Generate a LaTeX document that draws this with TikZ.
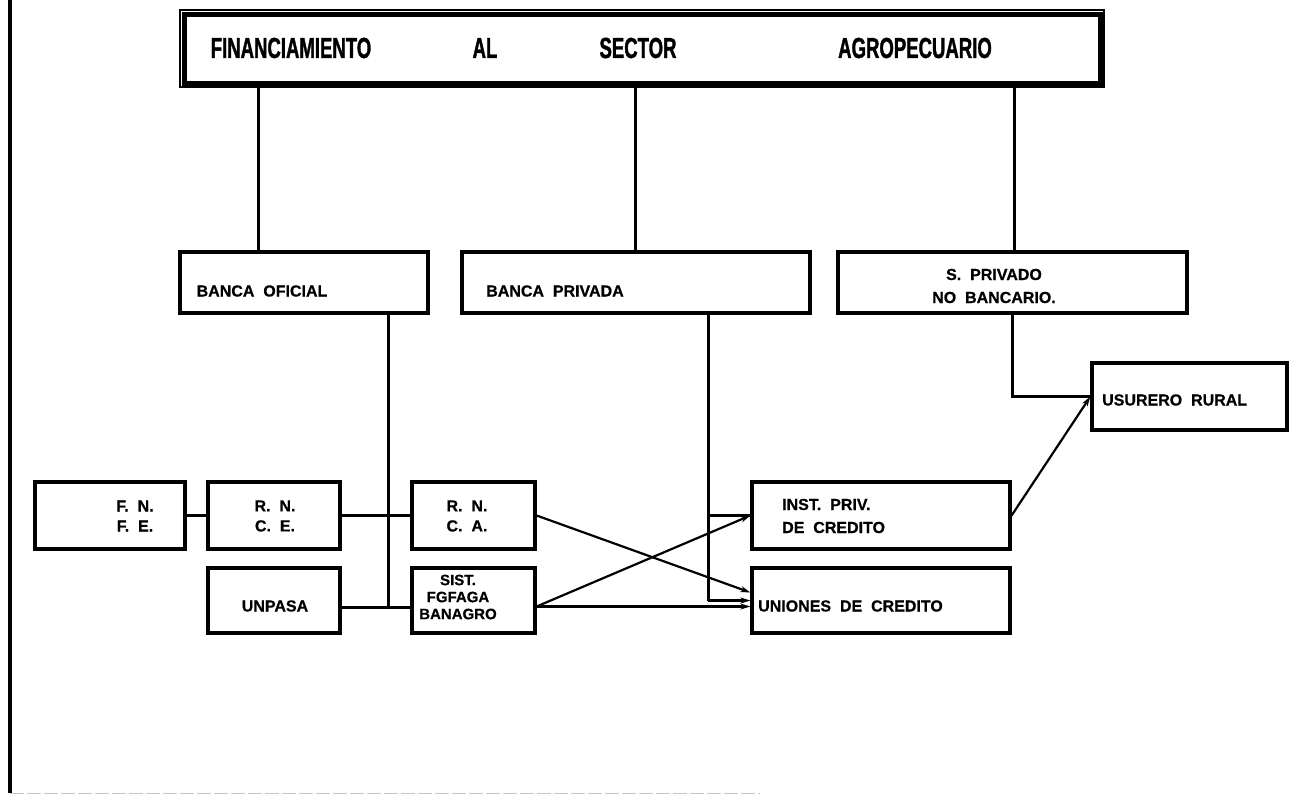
\documentclass[tikz,border=0pt]{standalone}
\usepackage{fontspec}
\setmainfont{Liberation Sans}
\newfontfamily\titlefont{Liberation Sans}[FakeStretch=0.64,FakeBold=1.2]
\newfontfamily\lblfont{Liberation Sans}[FakeBold=0.6]
\usetikzlibrary{arrows.meta}
\begin{document}
\begin{tikzpicture}[x=1pt,y=-1pt,
  box/.style={draw, line width=3.2pt, inner sep=0pt},
  conn/.style={line width=3pt},
  arr/.style={line width=2.2pt, -{Stealth[length=10pt,width=6pt]}},
  lbl/.style={font=\lblfont\fontsize{16}{20}\selectfont\bfseries, inner sep=0pt, align=center},
  lbll/.style={font=\lblfont\fontsize{16}{20}\selectfont\bfseries, inner sep=0pt, align=left},
  ttl/.style={font=\titlefont\fontsize{29}{30}\selectfont\bfseries, inner sep=0pt}]
\useasboundingbox (0,0) rectangle (1299,803);
% frame
\draw[line width=3.2pt] (10,0) -- (10,793);
\draw[gray!45, line width=1pt, dash pattern=on 14pt off 3pt] (10,793) -- (760,793);
% boxes
\node[draw, line width=5pt, inner sep=0pt, minimum width=916pt, minimum height=69pt] (title) at (642,48.5) {};
\draw[line width=1.4pt] (180,10) rectangle (1104,87);
\node[box, minimum width=248pt, minimum height=61pt] (BO) at (304,282.5) {};
\node[box, minimum width=348pt, minimum height=61pt] (BP) at (636,282.5) {};
\node[box, minimum width=349pt, minimum height=61pt] (SP) at (1012.5,282.5) {};
\node[box, minimum width=150pt, minimum height=67pt] (FN) at (110,515.5) {};
\node[box, minimum width=132pt, minimum height=67pt] (RNCE) at (274,515.5) {};
\node[box, minimum width=123pt, minimum height=67pt] (RNCA) at (473.5,515.5) {};
\node[box, minimum width=258pt, minimum height=67pt] (INST) at (881,515.5) {};
\node[box, minimum width=132pt, minimum height=65pt] (UNPASA) at (274,600.5) {};
\node[box, minimum width=123pt, minimum height=65pt] (SIST) at (473.5,600.5) {};
\node[box, minimum width=258pt, minimum height=65pt] (UNI) at (881,600.5) {};
\node[box, minimum width=195pt, minimum height=67pt] (USU) at (1189.5,396.5) {};
% texts
\node[ttl] (w1) at (291,48) {FINANCIAMIENTO};
\node[ttl] (w2) at (485,48) {AL};
\node[ttl] (w3) at (638,48) {SECTOR};
\node[ttl] (w4) at (915,48) {AGROPECUARIO};
\node[lbl] (tBO) at (262,291) {BANCA\ \ OFICIAL};
\node[lbl] (tBP) at (555,291) {BANCA\ \ PRIVADA};
\node[lbl, font=\lblfont\fontsize{16}{23}\selectfont\bfseries] (tSP) at (994,286) {S.\ \ PRIVADO\\NO\ \ BANCARIO.};
\node[lbl] (tFN) at (135,516) {F.\ \ N.\\F.\ \ E.};
\node[lbl] (tRNCE) at (275,516) {R.\ \ N.\\C.\ \ E.};
\node[lbl] (tRNCA) at (467,516) {R.\ \ N.\\C.\ \ A.};
\node[lbll, font=\lblfont\fontsize{16}{23}\selectfont\bfseries, anchor=west] (tINST) at (782,516) {INST.\ \ PRIV.\\DE\ \ CREDITO};
\node[lbl] (tUNP) at (275,606) {UNPASA};
\node[lbl, font=\lblfont\fontsize{15}{17}\selectfont\bfseries] (tSIST) at (458,597) {SIST.\\FGFAGA\\BANAGRO};
\node[lbll, anchor=west] (tUNI) at (758,606) {UNIONES\ \ DE\ \ CREDITO};
\node[lbll, anchor=west] (tUSU) at (1102,400) {USURERO\ \ RURAL};
% reference x positions
\path (258,0) coordinate (x1) (635,0) coordinate (x2) (1014,0) coordinate (x3)
      (388,0) coordinate (x4) (708,0) coordinate (x5) (1012,0) coordinate (x6)
      (388,607) coordinate (j1);
% connectors
\draw[conn] (title.south -| x1) -- (BO.north -| x1);
\draw[conn] (title.south -| x2) -- (BP.north -| x2);
\draw[conn] (title.south -| x3) -- (SP.north -| x3);
\draw[conn] (BO.south -| x4) -- (j1);
\draw[conn] (FN.east) -- (RNCE.west);
\draw[conn] (RNCE.east) -- (RNCA.west);
\draw[conn] (UNPASA.east |- j1) -- (SIST.west |- j1);
\draw[conn] (BP.south -| x5) -- (x5 |- UNI.west);
\draw[arr] (x5 |- UNI.west) -- (UNI.west);
\draw[conn] (INST.west -| x5) -- (INST.west);
\draw[conn] (SP.south -| x6) |- (USU.west);
\draw[arr] (RNCA.east) -- ([yshift=8pt]UNI.west);
\draw[arr] ([yshift=-6pt]SIST.east) -- (INST.west);
\draw[arr] ([yshift=-6pt]SIST.east) -- ([yshift=-6pt]UNI.west);
\draw[arr] (INST.east) -- (USU.west);
\end{tikzpicture}
\end{document}
